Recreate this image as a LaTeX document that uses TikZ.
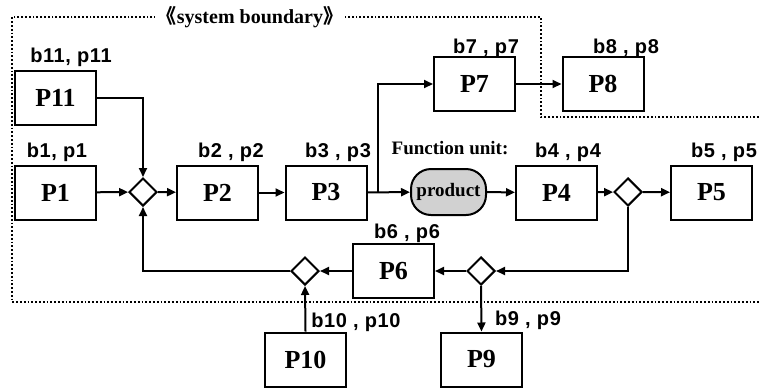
\documentclass[tikz,border=0pt]{standalone}
\usepackage{fontspec}
\setmainfont{Liberation Serif}
\newfontfamily\lblfont[LetterSpace=3]{Liberation Sans}
\newfontfamily\cjk{Noto Sans CJK SC}
\usetikzlibrary{shapes.geometric,arrows.meta}
\tikzset{
proc/.style={draw=black,line width=2pt,minimum width=81pt,minimum height=54pt,inner sep=0pt,font=\fontsize{26}{30}\selectfont\bfseries},
unit/.style={draw=black,line width=2pt,fill=black!18,rounded corners=20pt,minimum width=75pt,minimum height=46pt,inner sep=0pt,font=\fontsize{19}{21}\selectfont\bfseries},
junc/.style={diamond,draw=black,line width=2pt,minimum size=28pt,inner sep=0pt},
tag/.style={font=\lblfont\fontsize{20}{22}\selectfont\bfseries,inner sep=0pt},
note/.style={font=\fontsize{19}{21}\selectfont\bfseries,inner sep=0pt},
boundary/.style={dotted,line width=1.8pt},
flow/.style={-{Triangle[length=9pt,width=8pt]},line width=2pt}
}
\begin{document}
\begin{tikzpicture}[x=1pt,y=-1pt]
\useasboundingbox (0,0) rectangle (759,389);
% system boundary
\draw[boundary] (759,117) -| (541,17) -- (12,17) |- (759,302);
\node[note,fill=white,inner xsep=2pt,font=\fontsize{20}{22}\selectfont\bfseries] (sys) at (250,17) {{\cjk 《}system boundary{\cjk 》}};
% processes
\node[proc] (P11) at (55.5,98) {P11};
\node[proc] (P1) at (55.5,192.5) {P1};
\node[junc] (D1) at (143,192) {};
\node[proc] (P2) at (217.5,192.5) {P2};
\node[proc] (P3) at (326,192.5) {P3};
\node[proc] (P7) at (474.5,84) {P7};
\node[proc] (P8) at (603,84) {P8};
\node[unit] (prod) at (448.5,192) {product};
\node[proc] (P4) at (556.5,192.5) {P4};
\node[junc] (D2) at (628,192) {};
\node[proc] (P5) at (711.5,192.5) {P5};
\node[junc] (D3) at (481,271) {};
\node[proc] (P6) at (393.5,271) {P6};
\node[junc] (D4) at (305,271) {};
\node[proc] (P10) at (305.5,359.5) {P10};
\node[proc] (P9) at (481.5,359.5) {P9};
% labels
\node[tag] (t11) at (71,57) {b11, p11};
\node[tag] (t1) at (57,152) {b1, p1};
\node[tag] (t2) at (231,152) {b2 , p2};
\node[tag] (t3) at (338,152) {b3 , p3};
\node[tag] (t7) at (486,48) {b7 , p7};
\node[tag] (t8) at (626,48) {b8 , p8};
\node[tag] (t4) at (568,152) {b4 , p4};
\node[tag] (t5) at (724,152) {b5 , p5};
\node[tag] (t6) at (407,233) {b6 , p6};
\node[tag] (t10) at (356,322) {b10 , p10};
\node[tag] (t9) at (528,320) {b9 , p9};
\node[note] (fu) at (450,148) {Function unit:};
% flows
\coordinate (br) at (378,192);
\draw[flow] (P11.east) -| (D1.north);
\draw[flow] (P1) -- (D1);
\draw[flow] (D1) -- (P2);
\draw[flow] (P2) -- (P3);
\draw[flow] (P3) -- (prod);
\draw[flow] (br) |- (P7.west);
\draw[flow] (P7) -- (P8);
\draw[flow] (prod) -- (P4);
\draw[flow] (P4) -- (D2);
\draw[flow] (D2) -- (P5);
\draw[flow] (D2.south) |- (D3.east);
\draw[flow] (D3) -- (P6);
\draw[flow] (D3.south) -- (P9.north);
\draw[flow] (P6) -- (D4);
\draw[flow] (P10.north) -- (D4.south);
\draw[flow] (D4.west) -| (D1.south);
\end{tikzpicture}
\end{document}
